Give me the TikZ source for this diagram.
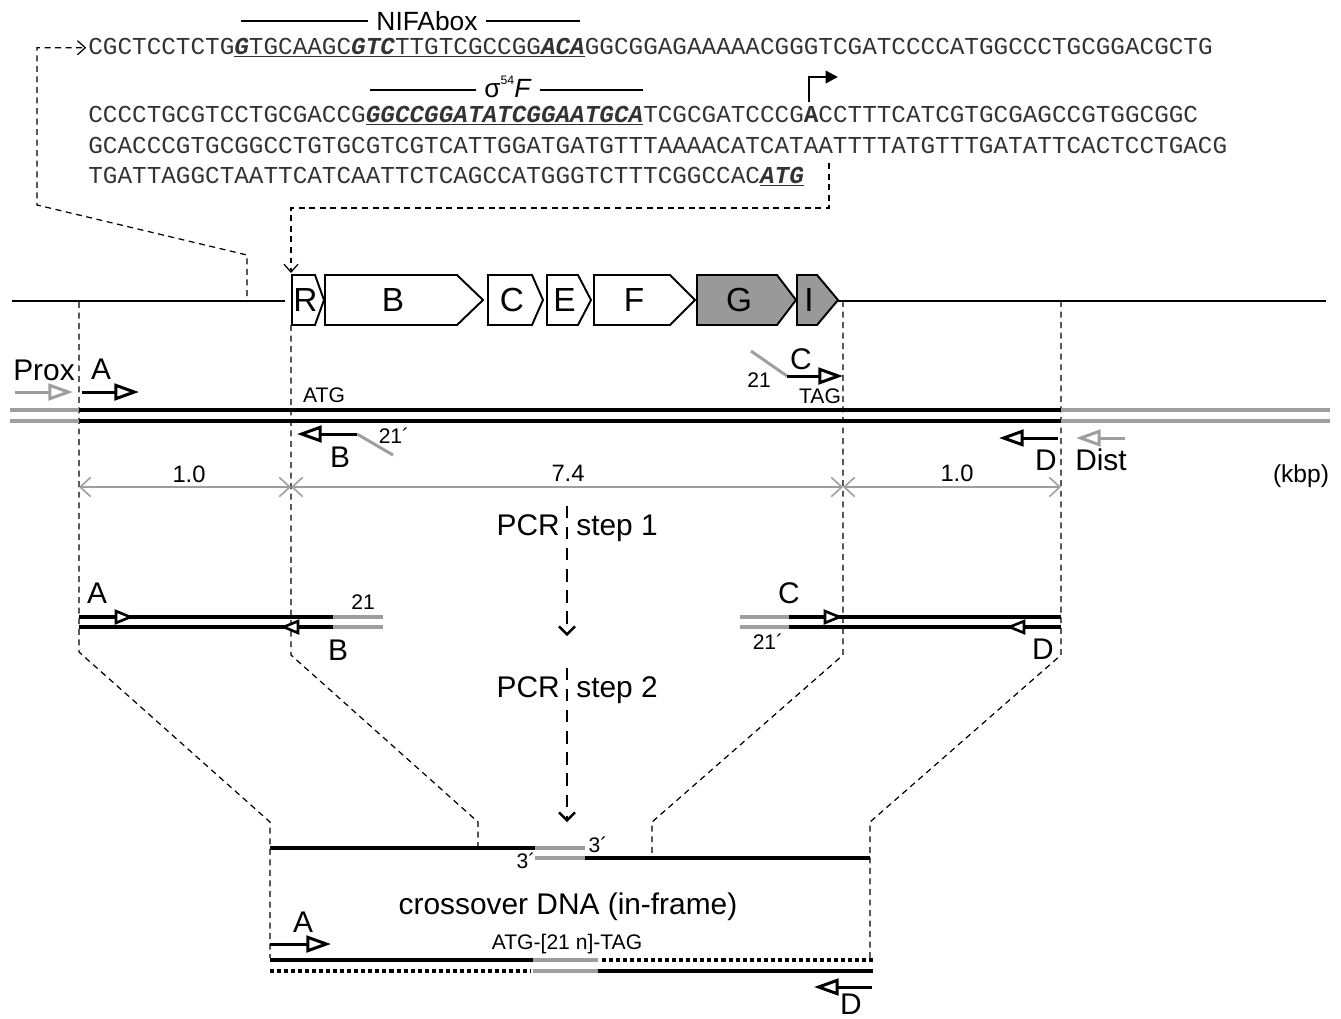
\documentclass[tikz,border=0pt]{standalone}
\usepackage{fontspec}
\setmainfont{Liberation Sans}
\setmonofont{Liberation Mono}
\usepackage{tikz}
\usetikzlibrary{positioning,arrows.meta,calc}
\definecolor{lgray}{gray}{0.62}
\definecolor{ggray}{gray}{0.6}
\newcommand{\bix}[1]{\textbf{\textit{#1}}}
\newcommand{\lbl}{\fontsize{17}{19}\selectfont}
\newcommand{\sml}{\fontsize{12}{14}\selectfont}
\newcommand{\seqf}{\ttfamily\fontsize{13.85}{16}\selectfont}
% gene arrow: name, left, shoulder, tip, fill
\newcommand{\genebox}[5]{%
  \draw[gene,fill=#5] (#2,275) -- (#3,275) -- (#4,300) -- (#3,325) -- (#2,325) -- cycle;
  \node[lab,font=\fontsize{19}{21}\selectfont] (g#1) at ({(#2+#3)/2+2},300) {#1};}

\begin{document}
\begin{tikzpicture}[x=0.02cm,y=-0.02cm,
  seq/.style={anchor=base west,inner sep=0pt,font=\seqf,text=black!80},
  lab/.style={inner sep=0pt,font=\lbl},
  small/.style={inner sep=0pt,font=\sml},
  guide/.style={dash pattern=on 3.4pt off 2.6pt,line width=0.7pt},
  link/.style={guide,-{Straight Barb[length=4.5pt,width=8pt]}},
  strand/.style={line width=2.8pt},
  thinstrand/.style={line width=2.3pt},
  dotstrand/.style={line width=2.3pt,dash pattern=on 2.3pt off 1.7pt},
  primer/.style={line width=1.7pt,-{Triangle[length=14pt,width=9.5pt,fill=white]}},
  sprimer/.style={line width=1.5pt,-{Triangle[length=11pt,width=8.5pt,fill=white]}},
  tail/.style={lgray,line width=1.7pt},
  dim/.style={lgray,line width=0.9pt,{Straight Barb[length=6pt,width=11pt]}-{Straight Barb[length=6pt,width=11pt]}},
  gene/.style={line width=1.1pt,line join=miter},
  pcr/.style={line width=1.4pt,dash pattern=on 7pt off 5pt,-{Straight Barb[length=4.5pt,width=9pt]}}]
\useasboundingbox (0,0) rectangle (1341,1018);

% --- promoter sequence ---
\node[seq] (s1) at (88,54) {CGCTCCTCTG\underline{\bix{G}TGCAAGC\bix{GTC}TTGTCGCCGG\bix{ACA}}GGCGGAGAAAAACGGGTCGATCCCCATGGCCCTGCGGACGCTG};
\node[seq] (s2) at (88,122) {CCCCTGCGTCCTGCGACCG\underline{\bix{GGCCGGATATCGGAATGCA}}TCGCGATCCCG\textbf{A}CCTTTCATCGTGCGAGCCGTGGCGGC};
\node[seq] (s3) at (88,153) {GCACCCGTGCGGCCTGTGCGTCGTCATTGGATGATGTTTAAAACATCATAATTTTATGTTTGATATTCACTCCTGACG};
\node[seq] (s4) at (88,183) {TGATTAGGCTAATTCATCAATTCTCAGCCATGGGTCTTTCGGCCAC\underline{\bix{ATG}}};
\node[inner xsep=4.5pt,inner ysep=0pt,font=\fontsize{15}{17}\selectfont] (nifa) at (427,21) {NIFAbox};
\draw[line width=0.6pt] (241,21) -- (nifa.west) (nifa.east) -- (580,21);
\node[inner xsep=4.5pt,inner ysep=0pt,font=\fontsize{15}{17}\selectfont] (sig) at (508,87) {σ\raisebox{0.5em}{\fontsize{7}{8}\selectfont 54}\textit{F}};
\draw[line width=0.6pt] (370,90) -- (sig.west |- 0,90) (sig.east |- 0,90) -- (643,90);
\coordinate (tss) at (809,102);
\draw[line width=1.3pt,-{Triangle[length=7pt,width=7pt]}] (tss) |- ++(29,-25);

% --- dashed links to the map ---
\coordinate (lk1) at (247,296);
\coordinate (lk2) at (829,163);
\coordinate (rstart) at (291,273);
\draw[link,shorten >=1pt] (lk1) -- ++(0,-41) -- (37,205) |- (s1.west);
\draw[link] (lk2) -- ++(0,45) -| (rstart);

% --- gene map ---
\draw[line width=0.9pt] (12,301) -- (285,301) (838,301) -- (1326,301);
\genebox{R}{292}{315}{324}{white}
\genebox{B}{325}{457}{483}{white}
\genebox{C}{488}{532}{543}{white}
\genebox{E}{547}{578}{591}{white}
\genebox{F}{594}{670}{695}{white}
\genebox{G}{697}{777}{796}{ggray}
\genebox{I}{797}{817}{838}{ggray}

% --- guide lines ---
\coordinate (xa) at (79,302);
\coordinate (xb) at (291,325);
\coordinate (xc) at (843,301);
\coordinate (xd) at (1061,301);
\draw[guide] (xa) -- (79,652) -- (270,822) -- (270,958);
\draw[guide] (xb) -- (291,655) -- (478,822) -- (478,846);
\draw[guide] (xc) -- (843,655) -- (652,822) -- (652,855);
\draw[guide] (xd) -- (1061,655) -- (870,822) -- (870,958);

% --- chromosome with primers ---
\draw[strand,lgray] (10,410) -- (79,410) (10,421) -- (79,421);
\draw[strand] (79,410) -- (1061,410) (79,421) -- (1061,421);
\draw[strand,lgray] (1061,410) -- (1330,410) (1061,421) -- (1330,421);
\draw[primer,lgray] (15,392) -- (73,392);
\draw[primer] (82,392) -- (139,392);
\node[lab] (prox) at (44,370) {Prox};
\node[lab] (pA) at (101,369) {A};
\node[small] (atg) at (324,395) {ATG};
\draw[tail] (393,455) -- (357,434);
\draw[primer] (357,434) -- (297,434);
\node[small] (t21b) at (394,436) {21´};
\node[lab] (pB) at (340,457) {B};
\draw[tail] (751,351) -- (787,376);
\draw[primer] (787,376) -- (843,376);
\node[lab] (pC) at (801,359) {C};
\node[small] (t21c) at (759,380) {21};
\node[small] (tag) at (820,396) {TAG};
\draw[primer] (1058,438) -- (999,438);
\draw[primer,lgray] (1125,438) -- (1076,438);
\node[lab] (pD) at (1046,460) {D};
\node[lab] (dist) at (1101,460) {Dist};

% --- lengths ---
\draw[dim] (79,487) -- (291,487);
\draw[dim] (291,487) -- (843,487);
\draw[dim] (843,487) -- (1061,487);
\node[font=\fontsize{13.5}{15}\selectfont] (la) at (189,474) {1.0};
\node[font=\fontsize{13.5}{15}\selectfont] (lb) at (568,473) {7.4};
\node[font=\fontsize{13.5}{15}\selectfont] (lc) at (957,473) {1.0};
\node[font=\fontsize{14}{16}\selectfont] (kbp) at (1301,476) {(kbp)};

% --- PCR steps ---
\node[lab,anchor=base east] (pcr1) at (560,535) {PCR};
\node[lab,anchor=base west] (st1) at (576,535) {step 1};
\draw[pcr] (567,506) -- (567,636);
\node[lab,anchor=base east] (pcr2) at (560,697) {PCR};
\node[lab,anchor=base west] (st2) at (576,697) {step 2};
\draw[pcr] (567,668) -- (567,822);

% --- step 1 products ---
\draw[thinstrand] (79,617) -- (333,617) (79,627) -- (333,627);
\draw[thinstrand,lgray] (333,617) -- (383,617) (333,627) -- (383,627);
\draw[sprimer] (106,617) -- (134,617);
\draw[sprimer] (309,627) -- (280,627);
\node[lab] (fA) at (97,593) {A};
\node[small] (f21b) at (363,602) {21};
\node[lab] (fB) at (338,650) {B};
\draw[thinstrand,lgray] (740,617) -- (789,617) (740,627) -- (789,627);
\draw[thinstrand] (789,617) -- (1061,617) (789,627) -- (1061,627);
\draw[sprimer] (814,617) -- (843,617);
\draw[sprimer] (1035,627) -- (1006,627);
\node[lab] (fC) at (789,593) {C};
\node[small] (f21c) at (768,642) {21´};
\node[lab] (fD) at (1043,649) {D};

% --- crossover ---
\draw[thinstrand] (270,848) -- (535,848);
\draw[thinstrand,lgray] (535,848) -- (585,848) (535,858) -- (585,858);
\draw[thinstrand] (585,858) -- (870,858);
\node[small] (p3a) at (598,845) {3´};
\node[small] (p3b) at (526,861) {3´};
\node[lab] (xo) at (568,907) {crossover DNA (in-frame)};
\node[lab] (xA) at (303,922) {A};
\draw[primer] (270,944) -- (331,944);
\node[small] (frame) at (567,944) {ATG-[21 n]-TAG};
\draw[thinstrand] (270,960) -- (533,960);
\draw[dotstrand] (602,960) -- (873,960);
\draw[dotstrand] (270,971) -- (531,971);
\draw[thinstrand,lgray] (533,960) -- (598,960) (533,971) -- (598,971);
\draw[thinstrand] (598,971) -- (873,971);
\draw[primer] (872,987) -- (814,987);
\node[lab] (xD) at (851,1004) {D};
\end{tikzpicture}
\end{document}
